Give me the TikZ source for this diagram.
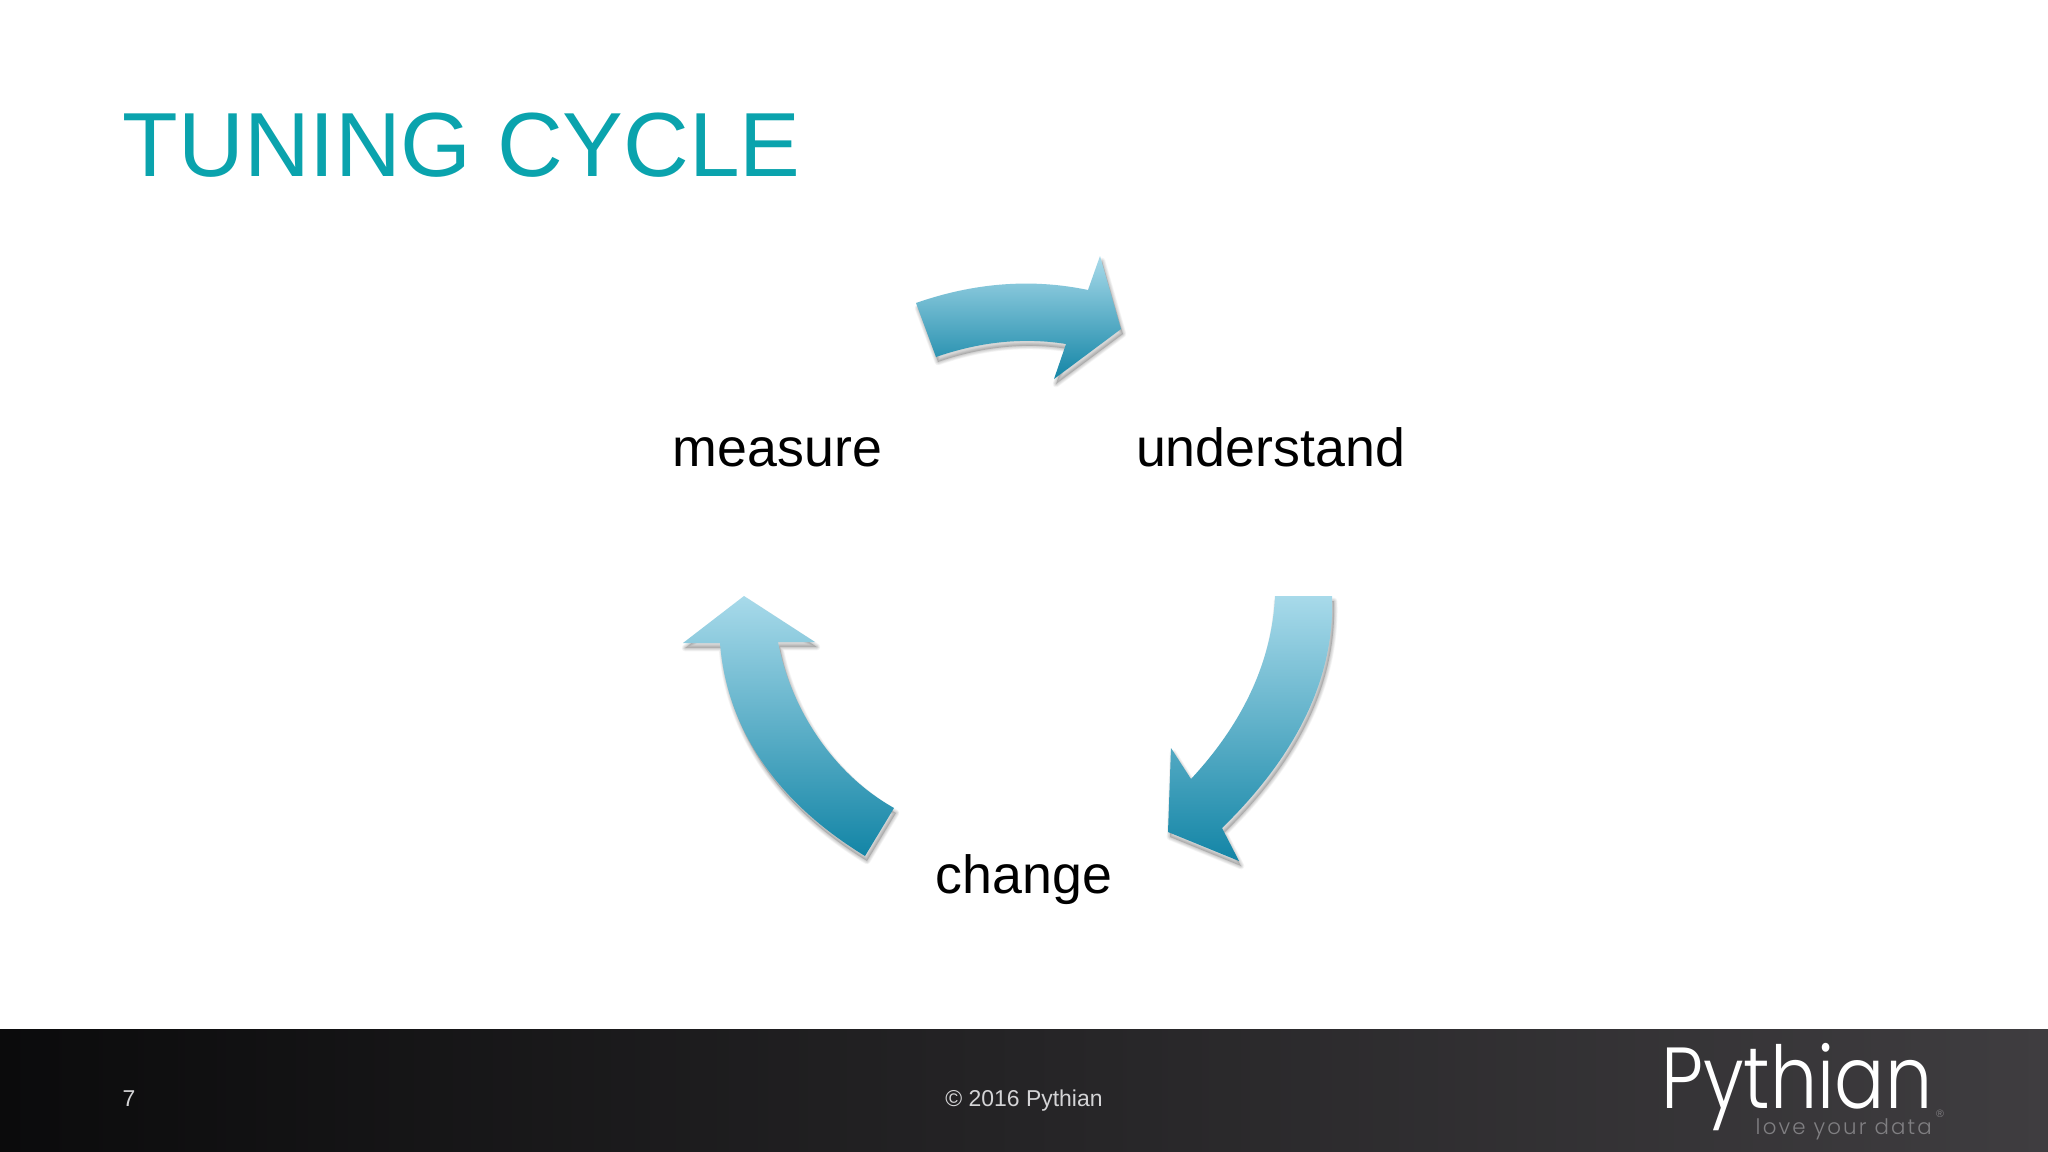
\documentclass[tikz,border=0pt]{standalone}
\usepackage{graphicx}
\usepackage{fontspec}
\setmainfont{Liberation Sans}
\newfontfamily\logofont{Poppins Light}
\newfontfamily\tagfont[LetterSpace=10]{Poppins Light}
\definecolor{titlecol}{HTML}{0AA3AD}
\definecolor{arrowtop}{HTML}{A8DAEA}
\definecolor{arrowmid}{HTML}{86BFD5}
\definecolor{arrowbot}{HTML}{1385A6}
\definecolor{barleft}{HTML}{0B0B0C}
\definecolor{barmid}{HTML}{2F2E30}
\definecolor{barright}{HTML}{3F3D40}
\definecolor{footertext}{HTML}{D4D4D6}
\definecolor{tagcol}{HTML}{807F82}
\newcommand{\arrowA}{(916,303) .. controls (973,283) and (1031,278) .. (1088,290) -- (1100,256) -- (1121,329) -- (1054,379) -- (1066,344) .. controls (1023,337) and (979,342) .. (936,357) -- cycle}
\newcommand{\arrowB}{(1275,596) -- (1332,596) .. controls (1335,675) and (1299,753) .. (1222,828) -- (1239,861) -- (1168,832) -- (1171,748) -- (1191,779) .. controls (1244,722) and (1272,660) .. (1275,596) -- cycle}
\newcommand{\arrowC}{(744,596) -- (815,642) -- (778,642) .. controls (790,705) and (830,772) .. (894,808) -- (865,856) .. controls (770,798) and (726,722) .. (720,643) -- (683,643) -- cycle}
\tikzset{
  softshadow/.style={draw=black,draw opacity=0.04,line join=round,fill=none},
  shadowcore/.style={fill=black,fill opacity=0.16,draw=none},
  cyclelabel/.style={anchor=base,font=\fontsize{40.3}{48}\selectfont,text=black,inner sep=0pt},
  footerlabel/.style={anchor=base,font=\fontsize{17.2}{21}\selectfont,text=footertext,inner sep=0pt},
  arrowfill/.style={top color=arrowtop,middle color=arrowmid,bottom color=arrowbot,draw=none}
}
\newcommand{\softshadowof}[1]{%
  \path[shadowcore,shift={(2,5)}] #1;%
  \foreach \w in {1,2,3,4,5}{\path[softshadow,shift={(2,5)},line width=\w pt] #1;}%
}
\begin{document}
\begin{tikzpicture}[x=0.75pt,y=-0.75pt]
\useasboundingbox (0,0) rectangle (2048,1152);
\fill[white] (0,0) rectangle (2048,1152);
\shade[left color=barleft,middle color=barmid,right color=barright] (0,1029) rectangle (2048,1152);
\node[anchor=base west,inner sep=0pt,text=titlecol,font=\fontsize{68.3}{80}\selectfont] (title) at (122.5,176) {TUNING CYCLE};
\softshadowof{\arrowA}
\softshadowof{\arrowB}
\softshadowof{\arrowC}
\shade[arrowfill] \arrowA;
\shade[arrowfill] \arrowB;
\shade[arrowfill] \arrowC;
\node[cyclelabel] (measure) at (777.5,466) {measure};
\node[cyclelabel] (understand) at (1270.5,466) {understand};
\node[cyclelabel] (change) at (1024,893) {change};
\node[footerlabel] (page) at (129,1106) {7};
\node[footerlabel] (copyright) at (1024,1106) {© 2016 Pythian};
\node[anchor=base west,inner sep=0pt,text=white,font=\logofont\fontsize{65}{72}\selectfont] (logo) at (1661,1108) {\scalebox{0.86}[1]{Pythian}};
\node[anchor=base east,inner sep=0pt,text=tagcol,font=\tagfont\fontsize{16}{20}\selectfont] (tag) at (1932,1134) {love your data};
\node[anchor=base,inner sep=0pt,text=tagcol,font=\fontsize{8}{10}\selectfont] (reg) at (1940,1117) {®};
\end{tikzpicture}
\end{document}
